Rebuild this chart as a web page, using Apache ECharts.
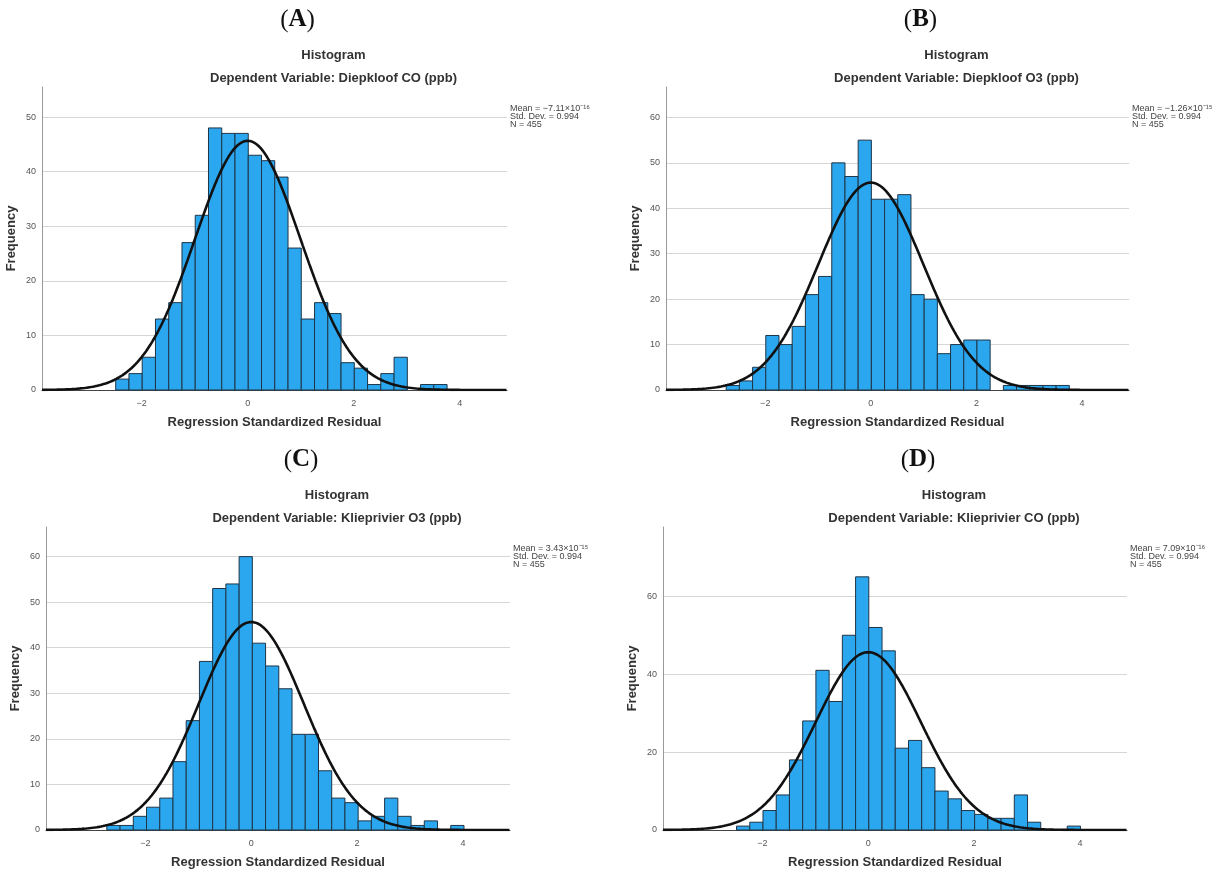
<!DOCTYPE html>
<html>
<head>
<meta charset="utf-8">
<title>Regression residual histograms</title>
<script src="https://cdn.jsdelivr.net/npm/echarts@6/dist/echarts.min.js"></script>
<style>
    html, body { margin: 0; padding: 0; background: #fff; }
    #histChart { width: 1224px; height: 874px; }
</style>
</head>
<body>
<div id="histChart"></div>
<script>
// bin counts, bins are 0.25 wide
var binWidth = 0.25;
var countsA = [2, 3, 6, 13, 16, 27, 32, 48, 47, 47, 43, 42, 39, 26, 13, 16, 14, 5, 4, 1, 3, 6, 0, 1, 1];
var countsB = [1, 2, 5, 12, 10, 14, 21, 25, 50, 47, 55, 42, 42, 43, 21, 20, 8, 10, 11, 11, 0, 1, 1, 1, 1, 1];
var countsC = [1, 1, 3, 5, 7, 15, 24, 37, 53, 54, 60, 41, 36, 31, 21, 21, 13, 7, 6, 2, 3, 7, 3, 1, 2, 0, 1];
var countsD = [1, 2, 5, 9, 18, 28, 41, 33, 50, 65, 52, 46, 21, 23, 16, 10, 8, 5, 4, 3, 3, 9, 2, 0, 0, 1];
// left edge of the first bin
var binStarts = [-2.49, -2.74, -2.73, -2.49];

var panelLetters = ['A', 'B', 'C', 'D'];
var depVars = ['Diepkloof CO (ppb)', 'Diepkloof O3 (ppb)', 'Klieprivier O3 (ppb)', 'Klieprivier CO (ppb)'];
var meanTexts = ['−7.11×10⁻¹⁶', '−1.26×10⁻¹⁵', '3.43×10⁻¹⁵', '7.09×10⁻¹⁶'];
var stdDevs = [0.994, 0.994, 0.994, 0.994];
var sampleSizes = [455, 455, 455, 455];

// tick labels
var xTicks = [-2, 0, 2, 4];
var yTicksA = [0, 10, 20, 30, 40, 50];
var yTicksB = [0, 10, 20, 30, 40, 50, 60];
var yTicksC = [0, 10, 20, 30, 40, 50, 60];
var yTicksD = [0, 20, 40, 60];
var yMaxes = [55.5, 66.7, 66.5, 77.8];
var xRange = [-3.88, 4.89];

var histReport = {

    chart : null,
    barColor : '#2ba7ef',
    barBorder : '#1f3547',
    fontFamily : '"Liberation Sans", Arial, sans-serif',
    // grid boxes of the four panels
    boxes : [
        {left: 42, top: 87, width: 465, height: 303},
        {left: 666, top: 87, width: 463, height: 303},
        {left: 46, top: 527, width: 464, height: 303},
        {left: 663, top: 527, width: 464, height: 303}
    ],

    init : function () {
        histReport.chart = echarts.init(document.getElementById('histChart'));
        histReport.loadChart();
    },

    buildBins : function (counts, start) {
        var res = [];
        for (var i = 0; i < counts.length; i++) {
            if (counts[i] > 0) {
                res.push([start + i * binWidth, start + (i + 1) * binWidth, counts[i]]);
            }
        }
        return res;
    },

    // fitted normal curve from the stated mean / sd / N (scaled to bin width)
    buildCurve : function (sd, n) {
        var res = [];
        var k = n * binWidth / (sd * Math.sqrt(2 * Math.PI));
        for (var x = xRange[0]; x <= xRange[1] + 1e-9; x += 0.02) {
            res.push([x, k * Math.exp(-0.5 * (x / sd) * (x / sd))]);
        }
        return res;
    },

    renderBar : function (params, api) {
        var p0 = api.coord([api.value(0), api.value(2)]);
        var p1 = api.coord([api.value(1), 0]);
        return {
            type: 'rect',
            shape: {x: p0[0], y: p0[1], width: p1[0] - p0[0], height: p1[1] - p0[1]},
            style: {fill: histReport.barColor, stroke: histReport.barBorder, lineWidth: 1}
        };
    },

    loadChart : function () {
        var countsList = [countsA, countsB, countsC, countsD];
        var yTickList = [yTicksA, yTicksB, yTicksC, yTicksD];
        var grids = [], xAxes = [], yAxes = [], series = [], graphics = [];

        for (var i = 0; i < 4; i++) {
            var box = histReport.boxes[i];
            grids.push({left: box.left, top: box.top, width: box.width, height: box.height});
            xAxes.push({
                type: 'value', gridIndex: i, min: xRange[0], max: xRange[1],
                name: 'Regression Standardized Residual', nameLocation: 'middle', nameGap: 26,
                nameTextStyle: {fontFamily: histReport.fontFamily, fontWeight: 'bold', fontSize: 13, color: '#333'},
                axisLine: {show: true, onZero: false, lineStyle: {color: '#444', width: 1}},
                axisTick: {show: false, customValues: xTicks},
                axisLabel: {customValues: xTicks, fontSize: 9, color: '#555', margin: 9, fontFamily: histReport.fontFamily,
                    formatter: function (v) { return v < 0 ? '−' + Math.abs(v) : String(v); }},
                splitLine: {show: false}
            });
            yAxes.push({
                type: 'value', gridIndex: i, min: 0, max: yMaxes[i],
                name: 'Frequency', nameLocation: 'middle', nameGap: 24,
                nameTextStyle: {fontFamily: histReport.fontFamily, fontWeight: 'bold', fontSize: 13, color: '#333'},
                axisLine: {show: true, onZero: false, lineStyle: {color: '#999', width: 1}},
                axisTick: {show: false, customValues: yTickList[i]},
                axisLabel: {customValues: yTickList[i], fontSize: 9, color: '#555', margin: 6, fontFamily: histReport.fontFamily},
                splitLine: {show: true, lineStyle: {color: '#d6d6d6', width: 1}}
            });
            series.push({
                type: 'custom', xAxisIndex: i, yAxisIndex: i,
                renderItem: histReport.renderBar,
                encode: {x: [0, 1], y: 2},
                data: histReport.buildBins(countsList[i], binStarts[i]),
                z: 2
            });
            series.push({
                type: 'line', xAxisIndex: i, yAxisIndex: i,
                data: histReport.buildCurve(stdDevs[i], sampleSizes[i]),
                showSymbol: false, smooth: false, clip: true,
                lineStyle: {color: '#111', width: 2.6},
                z: 3
            });

            var cx = box.left + box.width / 2;
            var topY = box.top;
            // panel letter, titles
            graphics.push({
                type: 'text', x: cx + 23, y: topY - 67,
                style: {
                    text: '{p|(}{b|' + panelLetters[i] + '}{p|)}',
                    align: 'center', verticalAlign: 'middle',
                    rich: {
                        p: {fontFamily: '"Liberation Serif", "DejaVu Serif", serif', fontSize: 25, fill: '#111'},
                        b: {fontFamily: '"Liberation Serif", "DejaVu Serif", serif', fontSize: 25, fontWeight: 'bold', fill: '#111'}
                    }
                }
            });
            graphics.push({
                type: 'text', x: cx + 59, y: topY - 32,
                style: {text: 'Histogram', align: 'center', verticalAlign: 'middle',
                    font: 'bold 13px ' + histReport.fontFamily, fill: '#333'}
            });
            graphics.push({
                type: 'text', x: cx + 59, y: topY - 9,
                style: {text: 'Dependent Variable: ' + depVars[i], align: 'center', verticalAlign: 'middle',
                    font: 'bold 13px ' + histReport.fontFamily, fill: '#333'}
            });
            // summary statistics
            graphics.push({
                type: 'text', x: box.left + box.width + 3, y: topY + 18,
                style: {
                    text: 'Mean = ' + meanTexts[i] + '\nStd. Dev. = ' + stdDevs[i] + '\nN = ' + sampleSizes[i],
                    align: 'left', verticalAlign: 'top',
                    font: '9px ' + histReport.fontFamily, fill: '#444', lineHeight: 8
                }
            });
        }

        var option = {
            backgroundColor: '#fff',
            animation: false,
            grid: grids,
            xAxis: xAxes,
            yAxis: yAxes,
            series: series,
            graphic: graphics
        };
        histReport.chart.setOption(option);
    }
};

histReport.init();
</script>
</body>
</html>
